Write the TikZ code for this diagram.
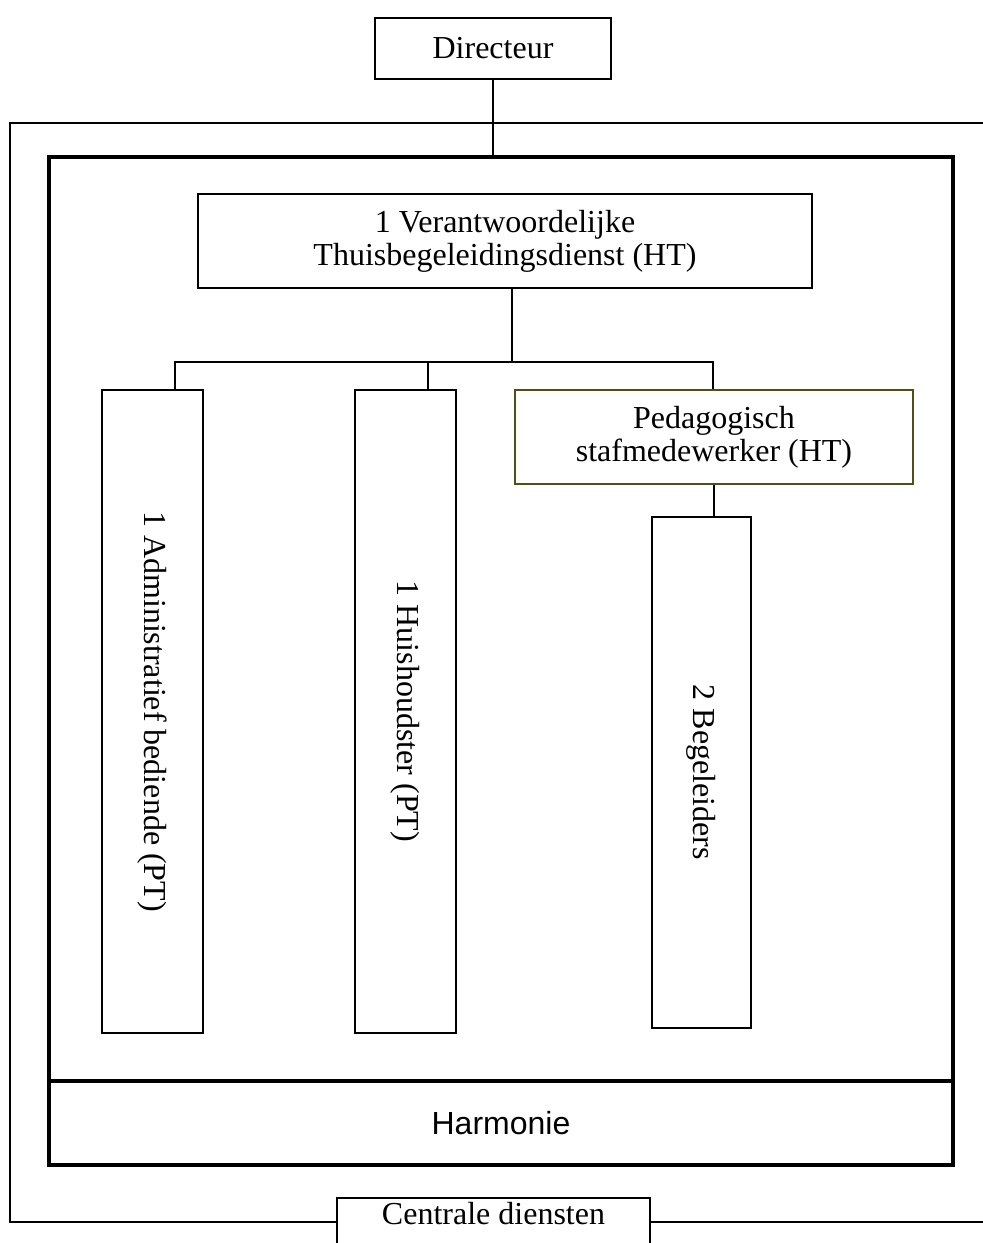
\documentclass[tikz,border=0pt]{standalone}
\usepackage{fontspec}
\setmainfont{Liberation Serif}
\setsansfont{Liberation Sans}
\begin{document}
\begin{tikzpicture}[x=1pt,y=-1pt]
\newcommand{\branchy}{362}
\newcommand{\topy}{390}
\tikzstyle{box}=[draw,line width=1.5pt,inner sep=0pt,align=center,font=\fontsize{32}{33}\selectfont]
\tikzstyle{tallbox}=[box,rotate=-90]
\tikzstyle{link}=[line width=1.5pt]
\tikzstyle{frame}=[draw,line width=4pt,inner sep=0pt,minimum width=904]
\definecolor{pedcolor}{RGB}{80,80,20}
\clip (0,0) rectangle (983,1243);
\node[box,minimum width=236,minimum height=61] (dir) at (493,48.5) {Directeur};
\node[frame,minimum height=924] (unit) at (501,619) {};
\node[frame,minimum height=84,font=\sffamily\fontsize{32}{33}\selectfont] (harm) at (501,1123) {Harmonie};
\node[box,minimum width=313,minimum height=80] (cd) at (493.5,1238) {};
\node[font=\fontsize{32}{33}\selectfont] (cdtext) at (493.5,1214) {Centrale diensten};
\node[box,minimum width=614,minimum height=94] (vth) at (505,241) {1 Verantwoordelijke\\Thuisbegeleidingsdienst (HT)};
\node[tallbox,minimum width=643,minimum height=101] (adm) at (152.5,711.5) {1 Administratief bediende (PT)};
\node[tallbox,minimum width=643,minimum height=101] (hh) at (405.5,711.5) {1 Huishoudster (PT)};
\node[box,draw=pedcolor,minimum width=398,minimum height=94] (ped) at (714,437) {Pedagogisch\\stafmedewerker (HT)};
\node[tallbox,minimum width=511,minimum height=99] (beg) at (701.5,772.5) {2 Begeleiders};
% outer line round the unit
\coordinate (tl) at (10,123);
\coordinate (tr) at (990,123);
\coordinate (bl) at (10,1222);
\coordinate (br) at (990,1222);
\draw[link] (tr) -- (tl) -- (bl) -- (bl -| cd.west);
\draw[link] (cd.east |- br) -- (br);
\draw[link] (dir.south) -- (dir.south |- unit.north);
% branches
\coordinate (split) at (512,\branchy);
\coordinate (ja) at (175,\branchy);
\coordinate (jh) at (428,\branchy);
\coordinate (jp) at (713,\branchy);
\draw[link] (vth.south -| split) -- (split);
\draw[link] (ja |- adm.west) -- (ja) -- (jp) -- (jp |- ped.north);
\draw[link] (jh) -- (jh |- hh.west);
\draw[link] (ped.south) -- (ped.south |- beg.west);
\end{tikzpicture}
\end{document}
